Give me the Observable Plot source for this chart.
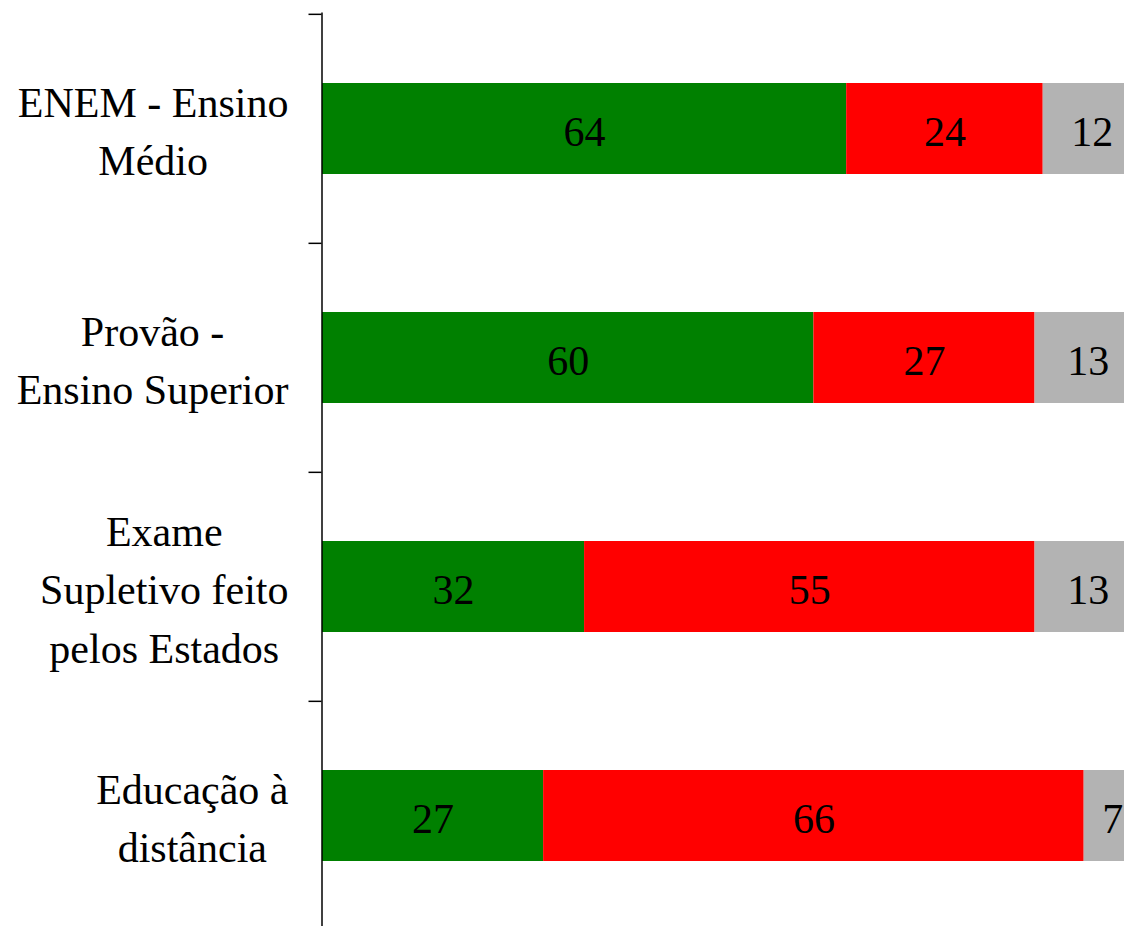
<!DOCTYPE html>
<html>
<head>
<meta charset="utf-8">
<script src="https://cdn.jsdelivr.net/npm/d3@7"></script>
<script src="https://cdn.jsdelivr.net/npm/@observablehq/plot@0.6"></script>
<style>
  html, body { margin: 0; padding: 0; background: #fff; overflow: hidden; }
  svg { display: block; }
</style>
</head>
<body>
<div id="chart"></div>
<script>
const categories = [
  "ENEM - Ensino\nMédio",
  "Provão -\nEnsino Superior",
  "Exame\nSupletivo feito\npelos Estados",
  "Educação à\ndistância"
];
const series = ["Favorável", "Contrário", "Não sabe"];
const favoravel = [64, 60, 32, 27];
const contrario = [24, 27, 55, 66];
const naoSabe = [12, 13, 13, 7];
const seriesColors = ["#008000", "#ff0000", "#b3b3b3"];

const data = [];
categories.forEach((c, i) => {
  data.push({cat: c, serie: series[0], value: favoravel[i]});
  data.push({cat: c, serie: series[1], value: contrario[i]});
  data.push({cat: c, serie: series[2], value: naoSabe[i]});
});

const font = "Liberation Serif";
const fontSize = 42;
const W = 1124, H = 926;
const yTop = 13, yBottom = 930.3;
const step = (yBottom - yTop) / categories.length;
const pad = 0.6045;

// measure label widths so each wrapped block is centred and right-aligned at x=288
const ctx = document.createElement("canvas").getContext("2d");
ctx.font = `${fontSize}px 'Liberation Serif'`;
const labelMarks = categories.map(c => {
  const maxW = d3.max(c.split("\n"), l => ctx.measureText(l).width);
  const cx = 288 - maxW / 2;
  return Plot.text([c], {
    y: d => d, text: d => d,
    frameAnchor: "left", dx: cx - 322,
    textAnchor: "middle", lineAnchor: "middle",
    lineHeight: 58.5 / fontSize, dy: -1.6,
    fontSize, fontFamily: font, fill: "black"
  });
});

const chart = Plot.plot({
  width: W, height: H,
  marginLeft: 322, marginRight: 0, marginTop: 0, marginBottom: 0,
  style: {background: "#fff", fontFamily: font, overflow: "hidden"},
  x: {domain: [0, 100], range: [322, 1141], axis: null},
  y: {domain: categories, range: [yTop, yBottom], paddingInner: pad, paddingOuter: pad / 2, align: 0.5, axis: null},
  color: {domain: series, range: seriesColors},
  marks: [
    Plot.barX(data, Plot.stackX({x: "value", y: "cat", fill: "serie", order: null, clip: true})),
    Plot.textX(data, Plot.stackX({x: "value", y: "cat", text: d => String(d.value), order: null,
      fontSize, fontFamily: font, fill: "black", dy: 4, clip: true})),
    Plot.ruleX([0], {stroke: "black", strokeWidth: 1.5, insetTop: 12.5, dx: -0.5}),
    Plot.axisY(categories, {anchor: "left", tickSize: 13, tickFormat: () => "", label: null,
      stroke: "black", strokeWidth: 1.5, dy: -step / 2, dx: -0.5}),
    ...labelMarks
  ]
});
document.getElementById("chart").appendChild(chart);
</script>
</body>
</html>
